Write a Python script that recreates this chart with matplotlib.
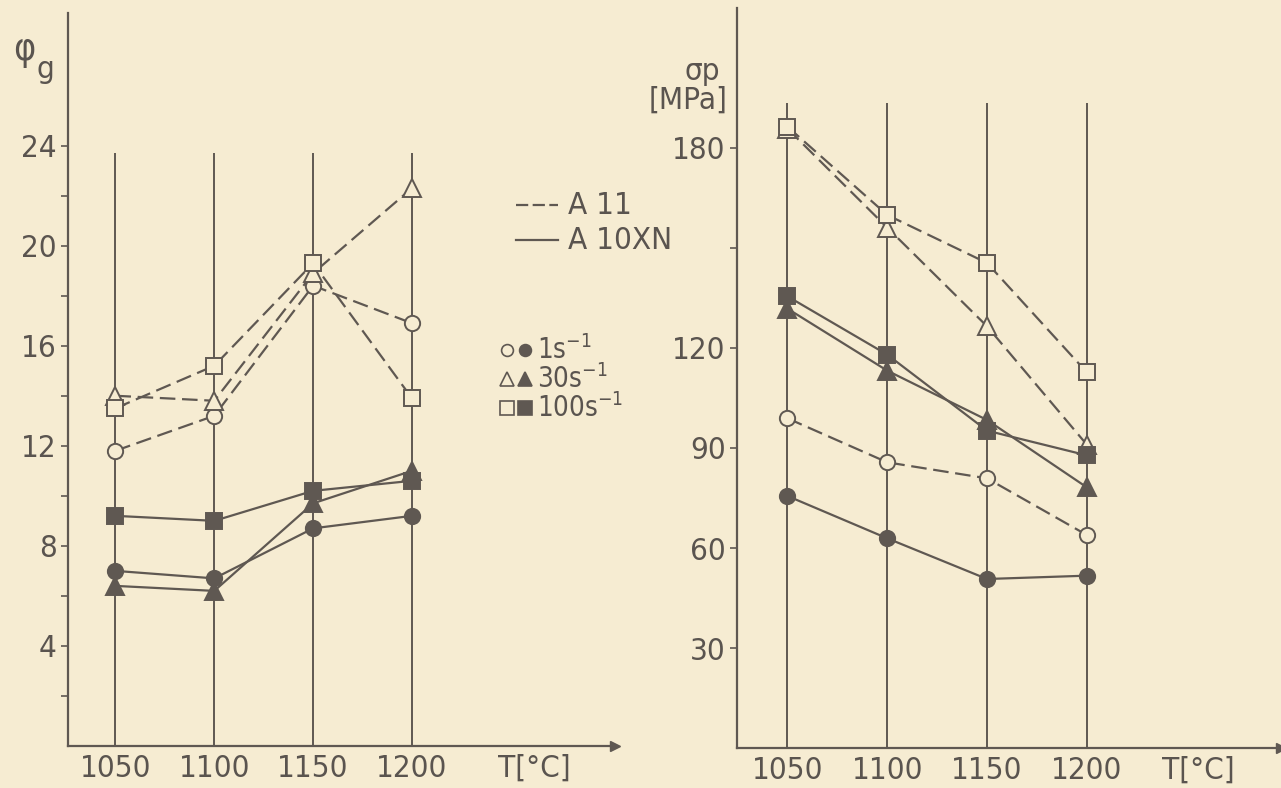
import matplotlib
matplotlib.use("Agg")
import matplotlib.pyplot as plt
from matplotlib import font_manager

# prefer a narrow sans; fall back to condensed DejaVu if that is there
names = {f.name for f in font_manager.fontManager.ttflist}
stretches = {(f.name, f.stretch) for f in font_manager.fontManager.ttflist}
if "Liberation Sans Narrow" in names:
    FAMILY = ["Liberation Sans Narrow", "DejaVu Sans"]
    STRETCH = "normal"
    SCALE = 1.0
elif ("DejaVu Sans", "condensed") in stretches or ("DejaVu Sans", 75) in stretches:
    FAMILY = ["DejaVu Sans"]
    STRETCH = "condensed"
    SCALE = 0.9
else:
    FAMILY = ["DejaVu Sans"]
    STRETCH = "normal"
    SCALE = 0.8

plt.rcParams["font.family"] = FAMILY
plt.rcParams["font.stretch"] = STRETCH
plt.rcParams["mathtext.fontset"] = "dejavusans"
plt.rcParams["mathtext.default"] = "regular"

BG = "#f6ecd2"
INK = "#5f5852"
TXT = "#5a544f"

W, H = 1281, 788
FS = 25 * SCALE

temps = [1050, 1100, 1150, 1200]
temp_labels = ["1050", "1100", "1150", "1200"]

# left panel: phi_g
phi_ticks = [2, 4, 6, 8, 10, 12, 14, 16, 18, 20, 22, 24]
phi_labels = ["", "4", "", "8", "", "12", "", "16", "", "20", "", "24"]
phi_a11_1 = [11.8, 13.2, 18.4, 16.9]
phi_a11_30 = [14.0, 13.8, 18.9, 22.3]
phi_a11_100 = [13.5, 15.2, 19.3, 13.9]
phi_a10_1 = [7.0, 6.7, 8.7, 9.2]
phi_a10_30 = [6.4, 6.2, 9.7, 11.0]
phi_a10_100 = [9.2, 9.0, 10.2, 10.6]

# right panel: sigma_p [MPa]
sig_ticks = [30, 60, 90, 120, 150, 180]
sig_labels = ["30", "60", "90", "120", "", "180"]
sig_a11_1 = [98.9, 85.7, 80.9, 63.9]
sig_a11_30 = [185.8, 156.1, 126.5, 91.0]
sig_a11_100 = [186.4, 159.9, 145.5, 112.7]
sig_a10_1 = [75.6, 62.9, 50.7, 51.7]
sig_a10_30 = [131.8, 113.2, 98.4, 78.2]
sig_a10_100 = [135.5, 118.0, 95.2, 87.8]

DASH = (7, 3)
MS = {"o": 11, "^": 12.5, "s": 12}


def px(x, y):
    return x / W, 1 - y / H


def series(ax, y, marker, dashed, filled):
    ls = "--" if dashed else "-"
    line, = ax.plot(temps, y, ls, color=INK, lw=1.6, marker=marker,
                    ms=MS[marker], mec=INK, mew=1.4,
                    mfc=INK if filled else BG, zorder=3)
    if dashed:
        line.set_dashes(DASH)


def style_axes(ax, ylim, yticks, ylabels, xlim, vtop, tlabel_x):
    ax.set_facecolor("none")
    ax.set_xlim(*xlim)
    ax.set_ylim(*ylim)
    for s in ("top", "right"):
        ax.spines[s].set_visible(False)
    for s in ("left", "bottom"):
        ax.spines[s].set_color(INK)
        ax.spines[s].set_linewidth(1.6)
    ax.vlines(temps, 0, vtop, color=INK, lw=1.4, zorder=1)
    ax.set_yticks(yticks)
    ax.set_yticklabels(ylabels)
    ax.set_xticks(temps)
    ax.set_xticklabels(temp_labels)
    ax.tick_params(axis="y", direction="out", length=5, width=1.2,
                   color=INK, labelcolor=TXT, labelsize=FS, pad=3)
    ax.tick_params(axis="x", length=0, labelcolor=TXT, labelsize=FS, pad=6)
    ax.plot(1, 0, marker=">", ms=7, color=INK, transform=ax.transAxes,
            clip_on=False)
    ax.text(tlabel_x, -0.01, "T[°C]", transform=ax.get_xaxis_transform(),
            ha="center", va="top", fontsize=FS, color=TXT)


fig = plt.figure(figsize=(W / 100, H / 100), dpi=100, facecolor=BG)

ax1 = fig.add_axes([68 / W, 42 / H, 547 / W, 733 / H])
style_axes(ax1, (0, 29.3), phi_ticks, phi_labels, (1026, 1302.7), 23.7, 1262)
series(ax1, phi_a11_1, "o", True, False)
series(ax1, phi_a11_30, "^", True, False)
series(ax1, phi_a11_100, "s", True, False)
series(ax1, phi_a10_1, "o", False, True)
series(ax1, phi_a10_30, "^", False, True)
series(ax1, phi_a10_100, "s", False, True)

ax2 = fig.add_axes([737 / W, 40 / H, 544 / W, 740 / H])
style_axes(ax2, (0, 222), sig_ticks, sig_labels, (1024.7, 1297.3), 193.5, 1256)
series(ax2, sig_a11_1, "o", True, False)
series(ax2, sig_a11_30, "^", True, False)
series(ax2, sig_a11_100, "s", True, False)
series(ax2, sig_a10_1, "o", False, True)
series(ax2, sig_a10_30, "^", False, True)
series(ax2, sig_a10_100, "s", False, True)

# axis titles
fig.text(*px(24, 50), "φ", fontsize=30 * SCALE, color=TXT, ha="center", va="center")
fig.text(*px(45, 70), "g", fontsize=FS, color=TXT, ha="center", va="center")
fig.text(*px(702, 72), "σp", fontsize=FS, color=TXT, ha="center", va="center")
fig.text(*px(688, 100), "[MPa]", fontsize=FS, color=TXT, ha="center", va="center")

# legend drawn in an overlay in pixel units
leg = fig.add_axes([0, 0, 1, 1])
leg.set_xlim(0, W)
leg.set_ylim(H, 0)
leg.axis("off")
l1, = leg.plot([516, 558], [205, 205], color=INK, lw=1.6)
l1.set_dashes((5.5, 2))
leg.plot([516, 558], [240, 240], color=INK, lw=1.6)
leg.text(568, 205, "A 11", fontsize=FS, color=TXT, va="center")
leg.text(568, 240, "A 10XN", fontsize=FS, color=TXT, va="center")

rates = ["1s$^{-1}$", "30s$^{-1}$", "100s$^{-1}$"]
rate_markers = ["o", "^", "s"]
for i, (lab, m) in enumerate(zip(rates, rate_markers)):
    yy = 350 + 29 * i
    leg.plot(507, yy, m, ms=MS[m] - 2.5, mfc=BG, mec=INK, mew=1.2)
    leg.plot(525, yy, m, ms=MS[m] - 2.5, mfc=INK, mec=INK, mew=1.2)
    leg.text(537, yy, lab, fontsize=22 * SCALE, color=TXT, va="center")

fig.savefig("out.png", dpi=100, facecolor=BG)
